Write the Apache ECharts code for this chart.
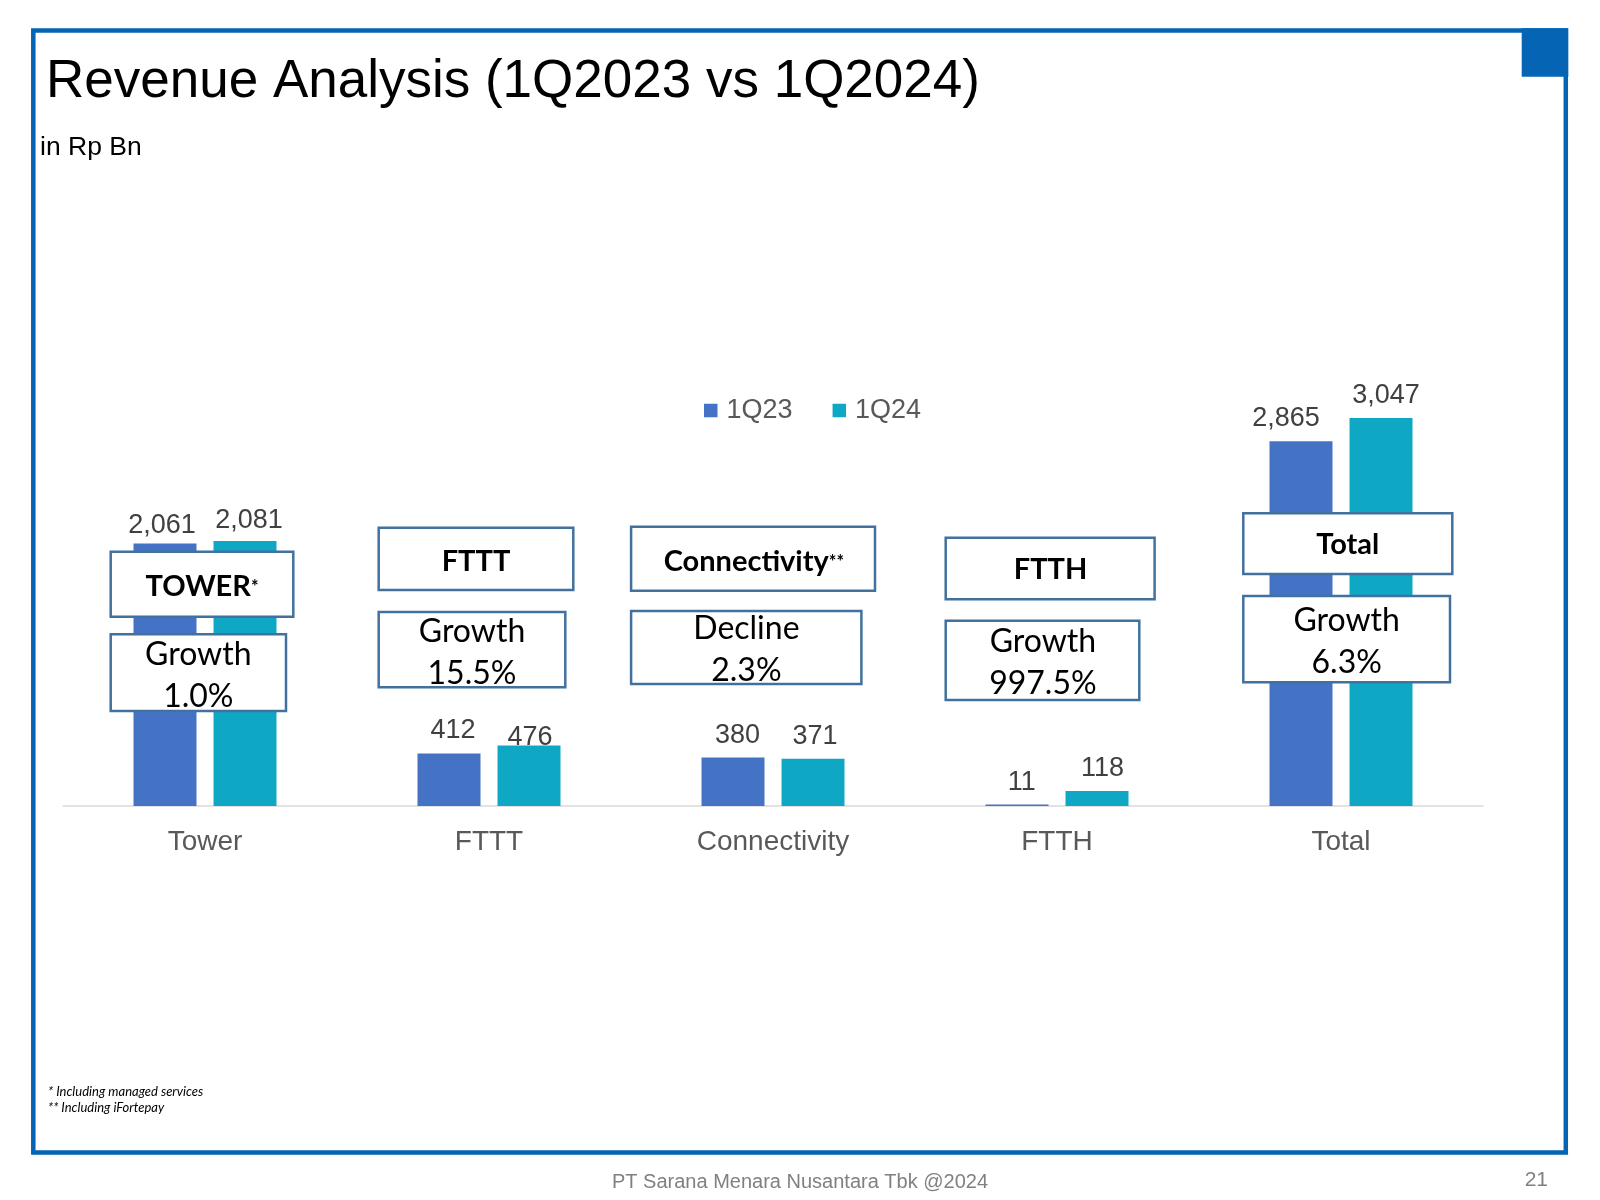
<!DOCTYPE html>
<html>
<head>
<meta charset="utf-8">
<script src="https://cdn.jsdelivr.net/npm/echarts@6/dist/echarts.min.js"></script>
<style>
  html, body { margin: 0; padding: 0; background: #ffffff; }
  #chart { width: 1600px; height: 1200px; }
</style>
</head>
<body>
<div id="chart"></div>
<script>
// ---- Data ----
const categories = ['Tower', 'FTTT', 'Connectivity', 'FTTH', 'Total'];
const seriesNames = ['1Q23', '1Q24'];
const values1Q23 = [2061, 412, 380, 11, 2865];
const values1Q24 = [2081, 476, 371, 118, 3047];
const boxHeaders = ['TOWER', 'FTTT', 'Connectivity', 'FTTH', 'Total'];
const boxHeaderMarks = ['*', '', '**', '', ''];
const changeWords = ['Growth', 'Growth', 'Decline', 'Growth', 'Growth'];
const changePcts = ['1.0%', '15.5%', '2.3%', '997.5%', '6.3%'];
const footnotes = ['* Including managed services', '** Including iFortepay'];

// ---- Layout (annotation boxes, label nudges) ----
const headerBoxes = [
  [110.7, 551.7, 182.6, 65.0, 202.0, 586.7],
  [378.7, 527.7, 194.6, 62.3, 476.0, 561.7],
  [631.1, 526.7, 243.9, 64.0, 753.9, 561.7],
  [945.7, 537.7, 208.9, 61.6, 1050.5, 570.0],
  [1243.3, 513.3, 209.0, 60.7, 1347.8, 545.0]
];
const changeBoxes = [
  [110.7, 634.3, 175.3, 76.7, 198.3, 675.3],
  [378.7, 612.0, 186.6, 75.3, 472.0, 652.5],
  [631.1, 611.0, 230.3, 73.0, 746.4, 649.2],
  [945.7, 620.7, 193.6, 79.3, 1042.9, 662.5],
  [1243.3, 596.0, 206.7, 86.3, 1346.7, 641.7]
];
const labelNudge1Q23 = [[-3, 4], [4, 0], [4.5, 0], [4.7, 0], [-15, 0]];
const labelNudge1Q24 = [[4, 2], [1, 15], [2, 0], [5.6, 0], [5, 0]];

const BLUE = '#4472C4';
const TEAL = '#0EA8C4';
const FRAME = '#0565B4';
const BOXLINE = '#41719C';
const fmt = v => v.toLocaleString('en-US');

function buildData(vals, nudges) {
  return vals.map((v, i) => ({ value: v, label: { offset: nudges[i] } }));
}

const graphics = [];
// frame
graphics.push({ type: 'rect', z: 200, shape: { x: 33.3, y: 30.5, width: 1532.5, height: 1122 },
  style: { fill: 'none', stroke: FRAME, lineWidth: 4.5 } });
graphics.push({ type: 'rect', z: 200, shape: { x: 1521.7, y: 28.3, width: 46.6, height: 48.4 },
  style: { fill: FRAME } });
// title and subtitle
graphics.push({ type: 'text', z: 200, style: { text: 'Revenue Analysis (1Q2023 vs 1Q2024)', x: 46, y: 82,
  fontSize: 53, fontFamily: 'Liberation Sans', fill: '#000000', align: 'left', verticalAlign: 'middle' } });
graphics.push({ type: 'text', z: 200, style: { text: 'in Rp Bn', x: 40, y: 148,
  fontSize: 26.5, fontFamily: 'Liberation Sans', fill: '#000000', align: 'left', verticalAlign: 'middle' } });
// footnotes
footnotes.forEach((t, i) => {
  graphics.push({ type: 'text', z: 200, style: { text: t, x: 48, y: 1092 + i * 16,
    fontSize: 13, fontStyle: 'italic', fontFamily: 'Lato', fill: '#000000', align: 'left', verticalAlign: 'middle' } });
});
// footer
graphics.push({ type: 'text', z: 200, style: { text: 'PT Sarana Menara Nusantara Tbk @2024', x: 612, y: 1182,
  fontSize: 20, fontFamily: 'Liberation Sans', fill: '#808080', align: 'left', verticalAlign: 'middle' } });
graphics.push({ type: 'text', z: 200, style: { text: '21', x: 1548, y: 1180,
  fontSize: 21, fontFamily: 'Liberation Sans', fill: '#808080', align: 'right', verticalAlign: 'middle' } });

// annotation boxes
headerBoxes.forEach((b, i) => {
  graphics.push({ type: 'rect', z: 100, shape: { x: b[0], y: b[1], width: b[2], height: b[3] },
    style: { fill: '#ffffff', stroke: BOXLINE, lineWidth: 2.5 } });
  const txt = '{b|' + boxHeaders[i] + '}' + (boxHeaderMarks[i] ? '{s|' + boxHeaderMarks[i] + '}' : '');
  graphics.push({ type: 'text', z: 101, style: { text: txt, x: b[4], y: b[5], align: 'center', verticalAlign: 'middle',
    rich: {
      b: { fontSize: 29, fontWeight: 'bold', fontFamily: 'Lato', fill: '#000000' },
      s: { fontSize: 18, fontWeight: 'bold', fontFamily: 'Lato', fill: '#000000' }
    } } });
});
changeBoxes.forEach((b, i) => {
  graphics.push({ type: 'rect', z: 100, shape: { x: b[0], y: b[1], width: b[2], height: b[3] },
    style: { fill: '#ffffff', stroke: BOXLINE, lineWidth: 2.5 } });
  graphics.push({ type: 'text', z: 101, style: { text: changeWords[i] + '\n' + changePcts[i], x: b[4], y: b[5],
    align: 'center', verticalAlign: 'middle', fontSize: 32, lineHeight: 42, fontFamily: 'Lato', fill: '#000000' } });
});

const chart = echarts.init(document.getElementById('chart'));
chart.setOption({
  animation: false,
  backgroundColor: '#ffffff',
  legend: {
    data: seriesNames,
    left: 699, top: 392,
    icon: 'rect', itemWidth: 13.5, itemHeight: 13.5, itemGap: 40,
    textStyle: { fontSize: 27, color: '#595959', fontFamily: 'Liberation Sans', padding: [0, 0, 0, 4] }
  },
  grid: { left: 63, width: 1420, top: 360.4, height: 445.6, containLabel: false },
  xAxis: {
    type: 'category', data: categories,
    axisLine: { lineStyle: { color: '#D9D9D9', width: 1.5 } },
    axisTick: { show: false },
    axisLabel: { fontSize: 28, color: '#595959', margin: 22, fontFamily: 'Liberation Sans' }
  },
  yAxis: { type: 'value', min: 0, max: 3500, show: false, splitLine: { show: false } },
  series: [
    { name: seriesNames[0], type: 'bar', data: buildData(values1Q23, labelNudge1Q23), barWidth: 63, barGap: '27%',
      itemStyle: { color: BLUE },
      label: { show: true, position: 'top', distance: 9, fontSize: 27, color: '#404040', fontFamily: 'Liberation Sans',
        formatter: p => fmt(p.value) } },
    { name: seriesNames[1], type: 'bar', data: buildData(values1Q24, labelNudge1Q24), barWidth: 63, barGap: '27%',
      itemStyle: { color: TEAL },
      label: { show: true, position: 'top', distance: 9, fontSize: 27, color: '#404040', fontFamily: 'Liberation Sans',
        formatter: p => fmt(p.value) } }
  ],
  graphic: { elements: graphics }
});
</script>
</body>
</html>
